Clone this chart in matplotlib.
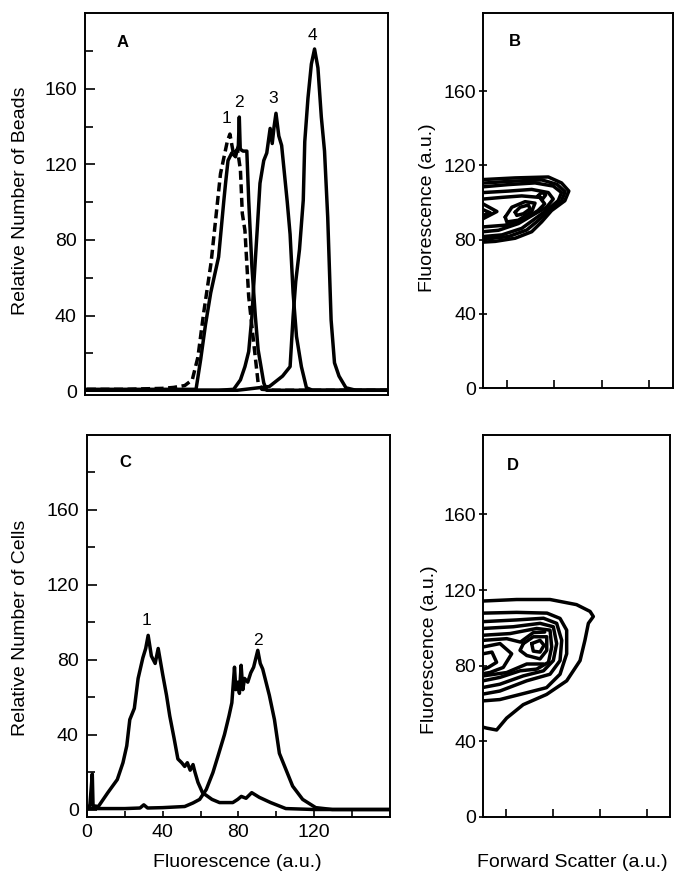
import matplotlib
matplotlib.use("Agg")
import matplotlib.pyplot as plt
from matplotlib.ticker import FixedLocator

plt.rcParams['font.family'] = ['Liberation Sans', 'DejaVu Sans']

# ---------------- Panel A: beads histograms ----------------
a1_x = [0, 20, 40, 46, 52, 56, 59, 62, 66, 71, 74.6, 76, 78, 80, 81.6, 82.6, 84, 86, 89.5, 91, 93, 100, 120, 140, 160]
a1_y = [1, 1, 1.5, 2, 3, 6, 18, 41, 68, 115, 132, 136, 125, 128, 117, 94, 85, 50, 18, 4.5, 1, 0.5, 0.5, 0.5, 0.5]

a2_x = [0, 20, 40, 55, 58, 60.5, 63, 65.8, 68, 70, 72.8, 73.7, 75, 77, 79, 80.5, 81, 81.5, 83, 85, 86, 87.7, 89.5, 91, 94, 95.6, 100, 120, 140, 160]
a2_y = [1, 1, 1, 1, 1, 17, 35, 52, 62, 71, 101, 110, 122, 126, 124, 130, 145, 128, 127, 127, 101, 66, 40, 22, 4.4, 0.5, 0.5, 0.5, 0.5, 0.5]

a3_x = [0, 40, 70, 78, 81.6, 84, 86, 87.7, 88.6, 90.5, 92, 94, 95.6, 97.4, 98.5, 99.5, 100.5, 102, 103.5, 105, 106.5, 108, 109.6, 111.4, 114, 116.7, 120, 140, 160]
a3_y = [0.5, 0.5, 0.5, 1, 6, 13, 21, 39.5, 55, 85, 110, 122, 126, 139, 131, 140, 147, 135, 130, 115, 100, 83, 52, 29, 13, 1.8, 0.5, 0.5, 0.5]

a4_x = [0, 40, 80, 97, 104, 108, 109.6, 111, 113, 115, 115.8, 117.5, 119.3, 121, 122.8, 124.6, 126.3, 128, 129.8, 131.6, 134, 137.7, 143, 160]
a4_y = [0.5, 0.5, 0.5, 2.5, 8, 13, 39.5, 58, 75, 101, 132, 155, 173, 181, 171, 145, 127, 92, 37.7, 15, 8, 1.8, 0.5, 0.5]

a_labels = ["1", "2", "3", "4"]
a_label_x = [74.2, 81, 99, 120]
a_label_y = [144, 152.5, 155, 188]

# ---------------- Panel C: cell histograms ----------------
c1_x = [0, 1.5, 2.8, 3.2, 6, 11, 16, 19, 21, 22.6, 25, 27, 29.5, 31, 32.3, 34, 36, 37.6, 40, 42, 43.7, 46, 48, 50, 51.6, 53, 54.5, 56, 57, 58.6, 61, 66, 70, 72.6, 77, 79.6, 81.5, 84, 87, 91, 97, 105, 120, 160]
c1_y = [1.6, 2, 19, 2, 1.6, 9, 16, 25, 34, 48, 54, 70, 81, 86, 93, 82, 78, 86, 72, 61, 50, 38, 27, 25, 23, 25, 21, 24, 20, 14.5, 9, 5.4, 3.7, 3.7, 3.7, 5.4, 7, 6, 9, 6.5, 3.7, 0.5, 0, 0]

c2_x = [0, 20, 28, 30, 32, 40, 51.6, 56, 59.5, 63, 66.5, 69.2, 72.6, 75, 76.5, 77.9, 78.6, 79.6, 80.5, 81.4, 82.3, 83.2, 84.9, 86.5, 88, 90.2, 91.5, 92.8, 96.3, 99, 101.6, 105, 108.6, 113.9, 120.8, 129.6, 160]
c2_y = [0.5, 0.5, 0.8, 2.5, 0.8, 1, 1.6, 3.5, 5.4, 10.7, 19.7, 28.6, 40, 50, 57, 76, 64, 68, 62, 77, 64, 70, 68, 73, 76, 85, 78, 75, 61, 48, 30, 21.5, 12.5, 5.4, 1, 0, 0]

c_labels = ["1", "2"]
c_label_x = [31.4, 90.2]
c_label_y = [101, 90.5]

# ---------------- Panel B: bead contours (forward scatter, fluorescence) ----------------
b_contours = [
    ([0, 33.9, 68.8, 82.7, 90.4, 86.2, 72.2, 61.8, 51.3, 33.9, 12.9, 0],
     [112.3, 113.2, 113.7, 110.5, 106.1, 100.9, 95.6, 89.5, 84.2, 80.7, 79, 78.6]),
    ([0, 30, 62, 78, 86.5, 82.7, 70.5, 58.3, 46, 26.9, 0],
     [110.4, 111.4, 112.1, 109.7, 105.7, 100.9, 96, 90.3, 85.1, 81.6, 80.1]),
    ([0, 26.9, 54.8, 74, 82.7, 79.2, 68.8, 54.8, 40.8, 19.9, 0],
     [108.4, 109.6, 110.5, 108.8, 105.3, 100.9, 96.5, 91.2, 86, 82.5, 81.6]),
    ([0, 26.9, 51.3, 68.8, 74, 67, 54.8, 37.3, 16.4, 0],
     [105.3, 106.1, 107, 105.3, 101.8, 97.4, 93.9, 88.6, 85, 84.2]),
    ([0, 19.9, 40.8, 59.7, 65, 58, 44, 23, 0],
     [101.8, 102.7, 103.5, 102.7, 99.2, 95.6, 91.2, 87.7, 86.8]),
    ([23.4, 30.4, 44.3, 54.8, 51.3, 37.3, 25.1, 23.4],
     [92.1, 97.4, 100.4, 99.6, 95.1, 90.4, 89.5, 92.1]),
    ([33.9, 39.1, 47.8, 49.6, 42.6, 35.6, 33.9],
     [94.7, 97.4, 98.6, 96.5, 93.9, 93.0, 94.7]),
    ([0, 14.7, 0], [99.2, 95.1, 91.2]),
    ([0, 7.7, 0], [96.1, 94.4, 93.0]),
    ([58, 62, 66, 63, 58], [103.5, 105.5, 104, 102, 103.5]),
]

# ---------------- Panel D: cell contours ----------------
d_contours = [
    ([0, 36, 71.7, 100, 114.5, 118, 112.7, 109, 103.8, 89.5, 68, 43, 25.3, 14.6, 4, 0],
     [114.2, 115, 115, 112.3, 108.7, 106, 102.4, 93.4, 82.7, 72, 64.8, 59.4, 52.3, 46, 47, 47.5]),
    ([0, 36, 68.5, 82.4, 89.5, 89.5, 82.4, 68, 46.7, 18, 0],
     [107.8, 108.2, 107.8, 105, 98.8, 86.3, 75.5, 68.4, 65.7, 62.1, 61.4]),
    ([0, 36, 64.7, 78.8, 84.2, 82.4, 71.7, 46.7, 18, 0],
     [103.3, 104.2, 105.1, 102.4, 93.4, 82.7, 75.5, 72, 66.6, 65]),
    ([0, 32.4, 61, 75.2, 78.8, 75.2, 64.7, 43, 18, 0],
     [99.7, 100.6, 102.4, 100.6, 91.7, 82.7, 77.3, 74.6, 70.2, 68.5]),
    ([0, 29, 57.4, 71.7, 73.5, 70, 57.4, 39.6, 18, 0],
     [96.1, 97, 99.7, 98.8, 89.9, 81.8, 78.2, 77.3, 73.8, 72]),
    ([43.2, 53.8, 68.2, 68.2, 61, 46.8, 39.6, 43.2],
     [91.7, 95.3, 95.3, 88.1, 83.6, 85.4, 88.1, 91.7]),
    ([52.1, 61, 65.3, 61, 53.8, 52.1],
     [91.7, 93.4, 90.8, 87.2, 87.7, 91.7]),
    ([0, 18.2, 30.7, 21.7, 7.5, 0],
     [89.9, 91.7, 86.3, 79.1, 76.4, 75.8]),
    ([0, 9.6, 14.6, 5.7, 0],
     [86.3, 87.2, 81.8, 79.1, 78]),
    ([0, 25.4, 40, 53.8, 66],
     [93.4, 94.3, 92.5, 97.5, 97.8]),
    ([0, 25.4, 46.8, 64.7],
     [74.6, 76.4, 80.9, 80.9]),
]

y_major = [0, 40, 80, 120, 160]
fs_ticks = [25, 75, 125, 175]

fig = plt.figure(figsize=(6.77, 8.71), dpi=100)
axA = fig.add_axes([0.1256, 0.5465, 0.4474, 0.4385])
axB = fig.add_axes([0.7134, 0.5545, 0.2806, 0.4305])
axC = fig.add_axes([0.1285, 0.0620, 0.4475, 0.4386])
axD = fig.add_axes([0.7134, 0.0620, 0.2763, 0.4386])

LW = 2.5
for ax in (axA, axB, axC, axD):
    for s in ax.spines.values():
        s.set_linewidth(1.4)

# Panel A
axA.plot(a1_x, a1_y, color='black', lw=LW, ls=(0, (2.6, 1.3)))
axA.plot(a2_x, a2_y, color='black', lw=LW)
axA.plot(a3_x, a3_y, color='black', lw=LW)
axA.plot(a4_x, a4_y, color='black', lw=LW)
for t, x, y in zip(a_labels, a_label_x, a_label_y):
    axA.text(x, y, t, fontsize=12.5, ha='center', va='center')
axA.set_xlim(-1, 160)
axA.set_ylim(-2, 200)
axA.set_xticks([])
axA.yaxis.set_major_locator(FixedLocator(y_major))
axA.yaxis.set_minor_locator(FixedLocator([20, 60, 100, 140, 180]))
axA.tick_params(axis='y', which='major', direction='in', length=7, width=1.2, labelsize=14, pad=6)
axA.tick_params(axis='y', which='minor', direction='in', length=6, width=1.2)
axA.text(0.125, 0.924, "A", transform=axA.transAxes, fontsize=12, fontweight='bold', ha='center', va='center')

# Panel C
axC.plot(c1_x, c1_y, color='black', lw=LW)
axC.plot(c2_x, c2_y, color='black', lw=LW)
for t, x, y in zip(c_labels, c_label_x, c_label_y):
    axC.text(x, y, t, fontsize=12.5, ha='center', va='center')
axC.set_xlim(0, 160)
axC.set_ylim(-4, 200)
axC.xaxis.set_major_locator(FixedLocator([0, 40, 80, 120]))
axC.xaxis.set_minor_locator(FixedLocator([20, 60, 100, 140]))
axC.yaxis.set_major_locator(FixedLocator(y_major))
axC.yaxis.set_minor_locator(FixedLocator([20, 60, 100, 140, 180]))
axC.tick_params(axis='y', which='major', direction='in', length=7, width=1.2, labelsize=14, pad=6)
axC.tick_params(axis='y', which='minor', direction='in', length=6, width=1.2)
axC.tick_params(axis='x', which='both', direction='in', length=4, width=1.2, labelsize=14, pad=5)
axC.text(0.125, 0.927, "C", transform=axC.transAxes, fontsize=12, fontweight='bold', ha='center', va='center')

# Panels B and D
for ax, contours, letter, lp in ((axB, b_contours, "B", (0.168, 0.923)), (axD, d_contours, "D", (0.16, 0.921))):
    for cx, cy in contours:
        ax.plot(cx, cy, color='black', lw=LW, solid_joinstyle='round', solid_capstyle='round')
    ax.set_xlim(0, 200)
    ax.set_ylim(0, 202)
    ax.xaxis.set_major_locator(FixedLocator(fs_ticks))
    ax.yaxis.set_major_locator(FixedLocator(y_major))
    ax.tick_params(axis='x', direction='in', length=6, width=1.2, labelbottom=False)
    ax.tick_params(axis='y', direction='inout', length=6, width=1.2, labelsize=14, pad=2)
    ax.text(lp[0], lp[1], letter, transform=ax.transAxes, fontsize=12, fontweight='bold', ha='center', va='center')

# Axis titles
fig.text(0.030, 0.770, "Relative Number of Beads", rotation=90, fontsize=14, ha='center', va='center')
fig.text(0.632, 0.762, "Fluorescence (a.u.)", rotation=90, fontsize=14, ha='center', va='center')
fig.text(0.030, 0.279, "Relative Number of Cells", rotation=90, fontsize=14, ha='center', va='center')
fig.text(0.635, 0.254, "Fluorescence (a.u.)", rotation=90, fontsize=14, ha='center', va='center')
fig.text(0.350, 0.0095, "Fluorescence (a.u.)", fontsize=14, ha='center', va='center')
fig.text(0.845, 0.0095, "Forward Scatter (a.u.)", fontsize=14, ha='center', va='center')

fig.savefig("out.png", dpi=100)
